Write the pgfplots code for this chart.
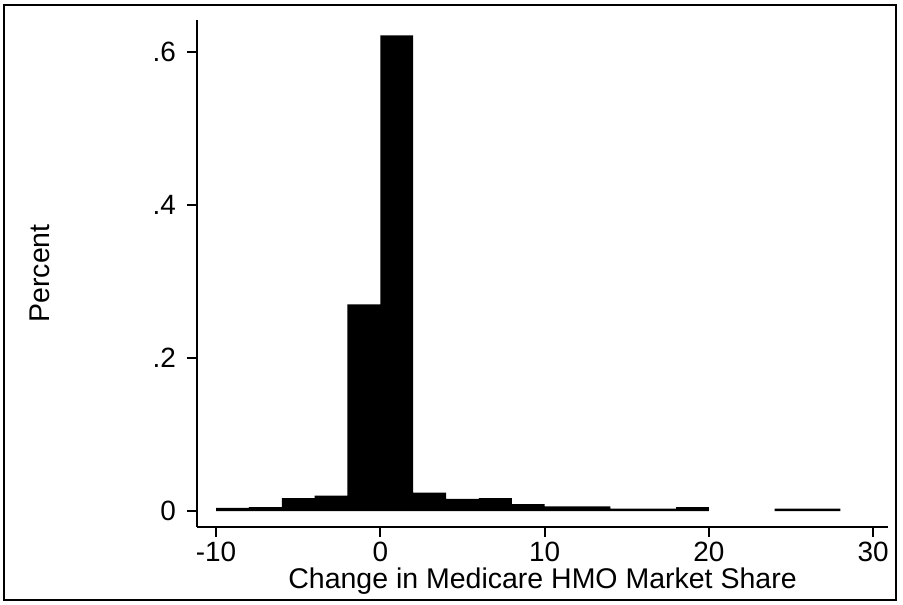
\documentclass[border=0pt]{standalone}
\usepackage{pgfplots}
\pgfplotsset{compat=1.18}
\usepackage{fontspec}
\setmainfont{Liberation Sans}
\begin{document}
\begin{tikzpicture}[x=0.5bp,y=0.5bp]
\path[use as bounding box] (0,0) rectangle (903,605);
\draw[line width=1.3bp] (4,5) rectangle (896,600);
\begin{axis}[
  at={(98.5bp,39bp)}, anchor=south west,
  scale only axis, width=345.5bp, height=253.5bp,
  xmin=-11.16, xmax=30.9, ymin=-0.0209, ymax=0.642,
  enlargelimits=false,
  axis lines=left,
  x axis line style={-, line width=1bp},
  y axis line style={-, line width=1bp},
  tick align=outside,
  major tick length=5bp,
  tick style={line width=1bp, black},
  xtick={-10,0,10,20,30},
  xticklabels={-10,0,10,20,30},
  ytick={0,0.2,0.4,0.6},
  yticklabels={0,.2,.4,.6},
  ticklabel style={font=\fontsize{14}{16}\selectfont},
  xticklabel style={yshift=1bp},
  yticklabel style={xshift=-2bp},
  label style={font=\fontsize{14.3}{16}\selectfont},
  xlabel={Change in Medicare HMO Market Share},
  ylabel={Percent},
  xlabel style={at={(axis description cs:0.5,-0.107)}, anchor=center},
  ylabel style={at={(axis description cs:-0.227,0.5)}, anchor=center},
]
\addplot[ybar interval, fill=black, draw=none] coordinates {
  (-10,0.004) (-8,0.005) (-6,0.017) (-4,0.020) (-2,0.270) (0,0.622)
  (2,0.024) (4,0.016) (6,0.017) (8,0.009) (10,0.006) (12,0.006)
  (14,0.003) (16,0.003) (18,0.005) (20,0)
};
\addplot[ybar interval, fill=black, draw=none] coordinates {
  (24,0.003) (26,0.003) (28,0)
};
\end{axis}
\end{tikzpicture}
\end{document}
